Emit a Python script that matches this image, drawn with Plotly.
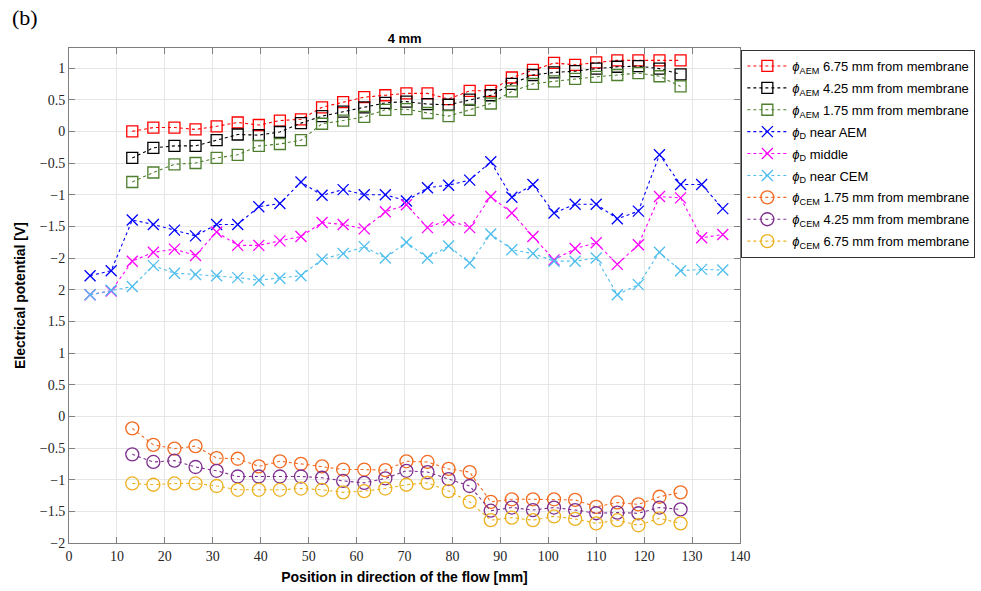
import plotly.graph_objects as go

# x positions [mm]
pos_D = [4.4, 8.8, 13.2, 17.6, 22.0, 26.4, 30.8, 35.2, 39.6, 44.0, 48.4, 52.8, 57.2, 61.6, 66.0, 70.4,
         74.8, 79.2, 83.6, 88.0, 92.4, 96.8, 101.2, 105.6, 110.0, 114.4, 118.8, 123.2, 127.6, 132.0, 136.4]
pos_M = [13.2, 17.6, 22.0, 26.4, 30.8, 35.2, 39.6, 44.0, 48.4, 52.8, 57.2, 61.6, 66.0, 70.4,
         74.8, 79.2, 83.6, 88.0, 92.4, 96.8, 101.2, 105.6, 110.0, 114.4, 118.8, 123.2, 127.6]

# upper panel values [V]
aem_675 = [0.00, 0.06, 0.06, 0.03, 0.08, 0.14, 0.10, 0.17, 0.19, 0.38, 0.46, 0.54, 0.57, 0.60,
           0.60, 0.51, 0.64, 0.64, 0.85, 0.97, 1.08, 1.05, 1.09, 1.12, 1.12, 1.12, 1.12]
aem_425 = [-0.42, -0.26, -0.23, -0.23, -0.14, -0.05, -0.06, -0.01, 0.13, 0.24, 0.31, 0.38, 0.45, 0.47,
           0.43, 0.42, 0.50, 0.57, 0.75, 0.89, 0.93, 0.95, 0.99, 1.02, 1.03, 0.99, 0.90]
aem_175 = [-0.80, -0.65, -0.52, -0.50, -0.42, -0.37, -0.23, -0.20, -0.14, 0.12, 0.17, 0.23, 0.34, 0.35,
           0.29, 0.24, 0.34, 0.44, 0.63, 0.75, 0.79, 0.83, 0.86, 0.89, 0.92, 0.87, 0.71]
d_aem = [-2.28, -2.20, -1.40, -1.47, -1.56, -1.65, -1.47, -1.47, -1.19, -1.14, -0.80, -1.01, -0.92, -1.00,
         -1.00, -1.10, -0.89, -0.85, -0.77, -0.48, -1.04, -0.84, -1.29, -1.15, -1.15, -1.38, -1.26, -0.37,
         -0.84, -0.84, -1.22]
d_mid = [-2.58, -2.52, -2.05, -1.91, -1.86, -1.96, -1.59, -1.80, -1.80, -1.73, -1.66, -1.44, -1.47, -1.54,
         -1.27, -1.16, -1.52, -1.40, -1.52, -1.03, -1.29, -1.66, -2.03, -1.85, -1.76, -2.10, -1.79, -1.03,
         -1.05, -1.68, -1.63]
d_cem = [-2.58, -2.51, -2.45, -2.12, -2.24, -2.26, -2.28, -2.31, -2.35, -2.32, -2.28, -2.02, -1.93, -1.82,
         -2.00, -1.75, -2.00, -1.81, -2.08, -1.62, -1.87, -1.93, -2.05, -2.05, -2.00, -2.58, -2.42, -1.91,
         -2.20, -2.18, -2.19]

# lower panel values [V]
cem_175 = [-0.19, -0.45, -0.51, -0.47, -0.66, -0.67, -0.79, -0.71, -0.75, -0.79, -0.84, -0.84, -0.85, -0.71,
           -0.72, -0.83, -0.88, -1.35, -1.31, -1.31, -1.31, -1.32, -1.43, -1.36, -1.39, -1.27, -1.20]
cem_425 = [-0.60, -0.72, -0.70, -0.80, -0.86, -0.95, -0.95, -0.95, -0.95, -0.97, -1.02, -1.05, -0.98, -0.86,
           -0.88, -0.99, -1.10, -1.49, -1.44, -1.48, -1.44, -1.48, -1.53, -1.52, -1.53, -1.44, -1.47]
cem_675 = [-1.06, -1.08, -1.06, -1.06, -1.10, -1.16, -1.16, -1.16, -1.14, -1.16, -1.20, -1.18, -1.14, -1.08,
           -1.05, -1.18, -1.35, -1.64, -1.60, -1.64, -1.58, -1.62, -1.69, -1.64, -1.72, -1.61, -1.69]

lower_ticks = [-2, -1.5, -1, -0.5, 0, 0.5, 1, 1.5, 2]
upper_ticks = [-2, -1.5, -1, -0.5, 0, 0.5, 1]
x_ticks = [0, 10, 20, 30, 40, 50, 60, 70, 80, 90, 100, 110, 120, 130, 140]

UPPER_OFFSET = 4.5  # upper panel stacked above lower panel on a shared axis


def fmt(v):
    s = ("%g" % v)
    return s.replace("-", "\u2212")


tickvals = lower_ticks + [t + UPPER_OFFSET for t in upper_ticks]
ticktext = [fmt(t) for t in lower_ticks] + [fmt(t) for t in upper_ticks]

phi = "<i>\u03d5</i>"
series = [
    (pos_M, aem_675, True, f"{phi}<sub>AEM</sub> 6.75 mm from membrane", "#FF0000", "square-open", 11),
    (pos_M, aem_425, True, f"{phi}<sub>AEM</sub> 4.25 mm from membrane", "#000000", "square-open", 11),
    (pos_M, aem_175, True, f"{phi}<sub>AEM</sub> 1.75 mm from membrane", "#4E7F2E", "square-open", 11),
    (pos_D, d_aem, True, f"{phi}<sub>D</sub> near AEM", "#0000FF", "x-thin-open", 11),
    (pos_D, d_mid, True, f"{phi}<sub>D</sub> middle", "#FF00FF", "x-thin-open", 11),
    (pos_D, d_cem, True, f"{phi}<sub>D</sub> near CEM", "#4DBEEE", "x-thin-open", 11),
    (pos_M, cem_175, False, f"{phi}<sub>CEM</sub> 1.75 mm from membrane", "#F26B21", "circle-open", 13),
    (pos_M, cem_425, False, f"{phi}<sub>CEM</sub> 4.25 mm from membrane", "#7E2F8E", "circle-open", 13),
    (pos_M, cem_675, False, f"{phi}<sub>CEM</sub> 6.75 mm from membrane", "#EDB120", "circle-open", 13),
]

fig = go.Figure()
for i, (xs, ys, upper, name, col, sym, sz) in enumerate(series):
    yy = [v + UPPER_OFFSET for v in ys] if upper else ys
    fig.add_trace(go.Scatter(
        x=xs, y=yy, name=name, mode="lines+markers", legendgroup=f"g{i}",
        line=dict(color=col, width=1.1, dash="dot"),
        marker=dict(symbol=sym, size=sz, color=col, line=dict(color=col, width=1.3)),
    ))

fig.update_layout(
    width=981, height=591,
    margin=dict(l=69, r=241, t=48, b=48, autoexpand=False),
    paper_bgcolor="white", plot_bgcolor="white",
    showlegend=True,
    legend=dict(
        x=1.002, y=0.996, xanchor="left", yanchor="top",
        bordercolor="#333333", borderwidth=1, bgcolor="white",
        font=dict(family="Liberation Sans, Arial", size=13, color="black"),
        tracegroupgap=2, itemwidth=40,
    ),
    title=dict(text="<b>4 mm</b>", x=0.4125, xanchor="center", y=0.935, yanchor="middle",
               font=dict(family="Liberation Sans, Arial", size=13, color="black")),
    annotations=[dict(text="(b)", xref="paper", yref="paper", x=-0.088, y=1.062,
                      xanchor="left", yanchor="middle", showarrow=False,
                      font=dict(family="Liberation Serif, Times New Roman", size=22, color="black"))],
)

fig.update_xaxes(
    range=[0, 140], tickvals=x_ticks, ticktext=[str(t) for t in x_ticks],
    showgrid=True, gridcolor="#E6E6E6", gridwidth=1, zeroline=False,
    showline=True, linecolor="#7f7f7f", linewidth=1, mirror="ticks",
    ticks="inside", ticklen=6, tickcolor="#7f7f7f",
    tickfont=dict(family="Liberation Serif, Times New Roman", size=14, color="#262626"),
    title=dict(text="<b>Position in direction of the flow [mm]</b>", standoff=9,
               font=dict(family="Liberation Sans, Arial", size=14, color="black")),
)
fig.update_yaxes(
    range=[-2, 5.816], tickvals=tickvals, ticktext=ticktext,
    showgrid=True, gridcolor="#E6E6E6", gridwidth=1, zeroline=False,
    showline=True, linecolor="#7f7f7f", linewidth=1, mirror="ticks",
    ticks="inside", ticklen=6, tickcolor="#7f7f7f",
    tickfont=dict(family="Liberation Serif, Times New Roman", size=14, color="#262626"),
    title=dict(text="<b>Electrical potential [V]</b>", standoff=10,
               font=dict(family="Liberation Sans, Arial", size=14, color="black")),
)

fig.write_html("out.html")
